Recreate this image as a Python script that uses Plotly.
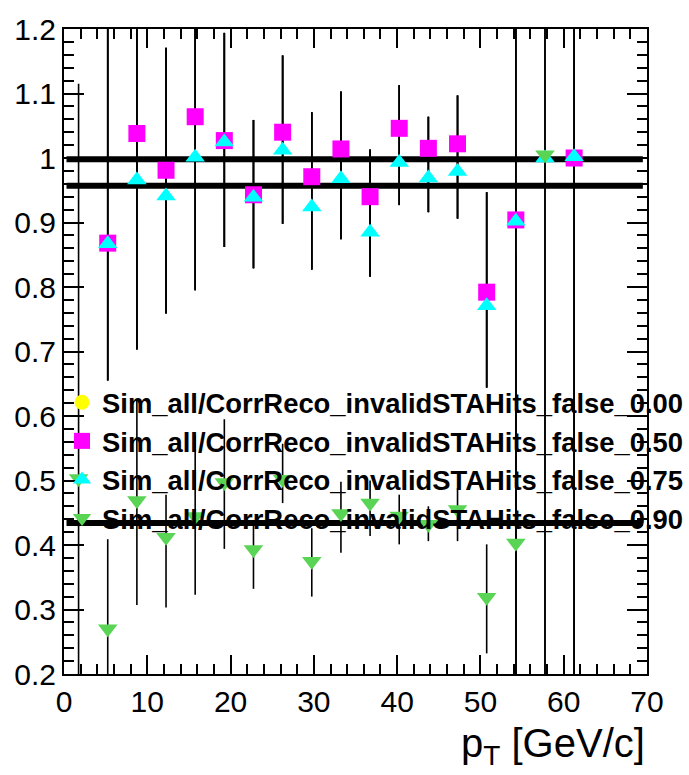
import plotly.graph_objects as go

# ---------------- data ----------------
pt_bins = [1.75, 5.25, 8.75, 12.25, 15.75, 19.25, 22.75, 26.25, 29.75,
           33.25, 36.75, 40.25, 43.75, 47.25, 50.75, 54.25, 57.75, 61.25]

eff_000 = [None, 0.868, 1.038, 0.981, 1.064, 1.027, 0.943, 1.040, 0.971,
           1.014, 0.940, 1.046, 1.015, 1.022, 0.792, 0.904, None, 1.000]
eff_050 = [None, 0.868, 1.038, 0.981, 1.064, 1.027, 0.943, 1.040, 0.971,
           1.014, 0.940, 1.046, 1.015, 1.022, 0.792, 0.904, None, 1.000]
eff_075 = [None, 0.867, 0.966, 0.941, 1.001, 1.025, 0.939, 1.012, 0.924,
           0.968, 0.885, 0.993, 0.969, 0.979, 0.771, 0.902, 1.000, 1.002]
eff_090 = [0.503, 0.270, 0.469, 0.412, 0.444, 0.497, 0.393, 0.502, 0.375,
           0.449, 0.465, 0.445, 0.432, 0.455, 0.319, 0.403, 1.005, None]

# error band limits (lower / upper edges of the error bars)
lo_050 = [None, 0.655, 0.703, 0.759, 0.795, 0.862, 0.829, 0.898, 0.827,
          0.874, 0.816, 0.927, 0.916, 0.906, 0.644, 0.10, None, 0.10]
hi_050 = [None, 1.35, 1.35, 1.171, 1.35, 1.194, 1.059, 1.159, 1.071,
          1.103, 1.013, 1.113, 1.064, 1.097, 0.947, 1.35, None, 1.35]
lo_075 = [None, 0.655, 0.703, 0.759, 0.795, 0.862, 0.829, 0.898, 0.827,
          0.874, 0.816, 0.927, 0.916, 0.906, 0.644, 0.10, 0.10, 0.10]
hi_075 = [None, 1.35, 1.35, 1.171, 1.35, 1.194, 1.059, 1.159, 1.071,
          1.103, 1.013, 1.113, 1.064, 1.097, 0.947, 1.35, 1.35, 1.35]
lo_090 = [0.05, 0.10, 0.307, 0.303, 0.323, 0.394, 0.332, 0.465, 0.320,
          0.388, 0.414, 0.401, 0.406, 0.406, 0.232, 0.10, 0.10, None]
hi_090 = [1.115, 0.409, 0.624, 0.478, 0.570, 0.595, 0.432, 0.557, 0.426,
          0.498, 0.500, 0.478, 0.460, 0.488, 0.401, 0.85, 1.35, None]

# constant fit levels
fit_levels = [0.998, 0.957, 0.434]
fit_range = [0.3, 69.5]

series_names = ["Sim_all/CorrReco_invalidSTAHits_false_0.00",
                "Sim_all/CorrReco_invalidSTAHits_false_0.50",
                "Sim_all/CorrReco_invalidSTAHits_false_0.75",
                "Sim_all/CorrReco_invalidSTAHits_false_0.90"]

x_ticks = [0, 10, 20, 30, 40, 50, 60, 70]
y_ticks = [0.2, 0.3, 0.4, 0.5, 0.6, 0.7, 0.8, 0.9, 1.0, 1.1, 1.2]

# ---------------- styles ----------------
colors = ["#FFFF00", "#FF00FF", "#00FFFF", "#59D454"]
symbols = ["circle", "square", "triangle-up", "triangle-down"]
sizes = [15, 17, 17, 17]
FONT = "Liberation Sans, Arial, Helvetica, sans-serif"


def errs(vals, lo, hi):
    plus, minus = [], []
    for v, l, h in zip(vals, lo, hi):
        if v is None or l is None:
            plus.append(0)
            minus.append(0)
        else:
            plus.append(h - v)
            minus.append(v - l)
    return plus, minus


fig = go.Figure()

# fit lines
fx, fy = [], []
for lev in fit_levels:
    fx += [fit_range[0], fit_range[1], None]
    fy += [lev, lev, None]
fig.add_trace(go.Scatter(x=fx, y=fy, mode="lines",
                         line=dict(color="black", width=6),
                         showlegend=False, hoverinfo="skip"))

all_vals = [eff_000, eff_050, eff_075, eff_090]
all_lo = [lo_050, lo_050, lo_075, lo_090]
all_hi = [hi_050, hi_050, hi_075, hi_090]

# error bars (under all markers)
for vals, lo, hi in zip(all_vals, all_lo, all_hi):
    p, m = errs(vals, lo, hi)
    fig.add_trace(go.Scatter(
        x=pt_bins, y=vals, mode="markers",
        marker=dict(size=4, opacity=0),
        error_y=dict(type="data", symmetric=False, array=p, arrayminus=m,
                     color="black", thickness=1.6, width=0),
        showlegend=False, hoverinfo="skip"))

# markers
for i, vals in enumerate(all_vals):
    fig.add_trace(go.Scatter(
        x=pt_bins, y=vals, mode="markers", name=series_names[i],
        marker=dict(symbol=symbols[i], color=colors[i], size=sizes[i],
                    line=dict(width=0)),
    ))

axis_common = dict(
    showline=True, linecolor="black", linewidth=2, mirror="allticks",
    ticks="inside", tickcolor="black", tickwidth=1.6,
    showgrid=False, zeroline=False,
    tickfont=dict(family=FONT, size=30, color="black"),
)

fig.update_xaxes(range=[0, 70], tickvals=x_ticks, ticklen=19,
                 minor=dict(ticks="inside", ticklen=10, dtick=2,
                            tickcolor="black", tickwidth=1.6, showgrid=False),
                 **axis_common)
fig.update_yaxes(range=[0.2, 1.2], tickvals=y_ticks, ticklen=20,
                 minor=dict(ticks="inside", ticklen=10, dtick=0.02,
                            tickcolor="black", tickwidth=1.6, showgrid=False),
                 **axis_common)

fig.add_annotation(text="p<sub>T</sub> [GeV/c]", xref="paper", yref="paper",
                   x=1.0, y=-0.153, xanchor="right", yanchor="bottom",
                   showarrow=False,
                   font=dict(family=FONT, size=40, color="black"))

fig.update_layout(
    width=689, height=775,
    margin=dict(l=64, r=42, t=23, b=101),
    paper_bgcolor="white", plot_bgcolor="white",
    legend=dict(x=-0.003, y=0.459, xanchor="left", yanchor="top",
                bgcolor="rgba(0,0,0,0)", borderwidth=0,
                font=dict(family=FONT, size=27.4, color="black", weight="bold"),
                itemwidth=30, tracegroupgap=0),
    showlegend=True,
)

fig.write_html("out.html")
